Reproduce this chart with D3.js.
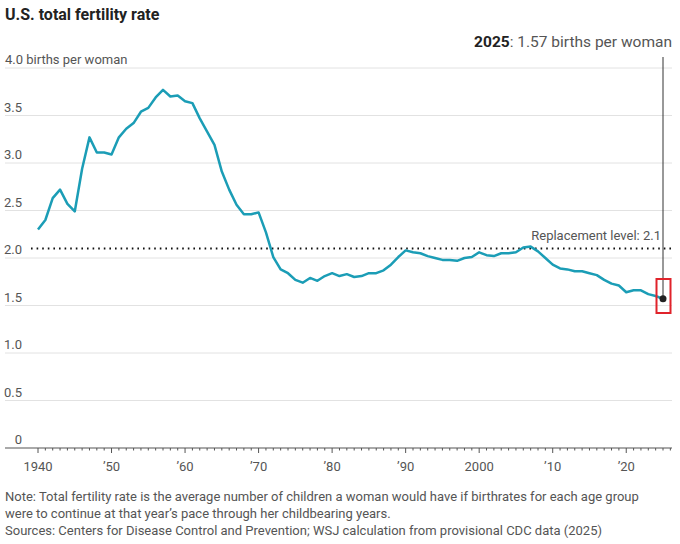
<!DOCTYPE html>
<html lang="en">
<head>
    <meta charset="UTF-8">
    <title>U.S. total fertility rate</title>
    <script src="https://cdnjs.cloudflare.com/ajax/libs/d3/7.8.5/d3.min.js"></script>
    <style>
        body {
            margin: 0;
            background: #fff;
            font-family: Roboto, "Open Sans", sans-serif;
        }
        svg text { fill: #555; }
        .title { font-weight: bold; fill: #222; }
    </style>
</head>
<body>
    <div id="chart"></div>

    <script>
        // Total fertility rate, births per woman
        const years = d3.range(1940, 2026);
        const rates = [
            2.30, 2.40, 2.63, 2.72, 2.57, 2.49, 2.94, 3.27, 3.11, 3.11,   // 1940s
            3.09, 3.27, 3.36, 3.42, 3.54, 3.58, 3.69, 3.77, 3.70, 3.71,   // 1950s
            3.65, 3.63, 3.47, 3.33, 3.19, 2.91, 2.72, 2.56, 2.46, 2.46,   // 1960s
            2.48, 2.27, 2.01, 1.88, 1.84, 1.77, 1.74, 1.79, 1.76, 1.81,   // 1970s
            1.84, 1.81, 1.83, 1.80, 1.81, 1.84, 1.84, 1.87, 1.93, 2.01,   // 1980s
            2.08, 2.06, 2.05, 2.02, 2.00, 1.98, 1.98, 1.97, 2.00, 2.01,   // 1990s
            2.06, 2.03, 2.02, 2.05, 2.05, 2.06, 2.11, 2.12, 2.07, 2.00,   // 2000s
            1.93, 1.89, 1.88, 1.86, 1.86, 1.84, 1.82, 1.77, 1.73, 1.71,   // 2010s
            1.64, 1.66, 1.66, 1.62, 1.60, 1.57                            // 2020s
        ];
        const replacement = 2.1;
        const yTicks = [0, 0.5, 1.0, 1.5, 2.0, 2.5, 3.0, 3.5, 4.0];
        const xTicks = [1940, 1950, 1960, 1970, 1980, 1990, 2000, 2010, 2020];
        const xTickLabels = ["1940", "\u201950", "\u201960", "\u201970", "\u201980", "\u201990", "2000", "\u201910", "\u201920"];

        const width = 680, height = 544;
        const left = 5, right = 672;

        const svg = d3.select("#chart").append("svg")
            .attr("width", width)
            .attr("height", height);

        const x = d3.scaleLinear().domain([1940, 2025]).range([38, 663]);
        const y = d3.scaleLinear().domain([0, 4]).range([448, 68]);

        // title
        svg.append("text")
            .attr("class", "title")
            .attr("x", 5).attr("y", 20)
            .style("font-size", "16px")
            .text("U.S. total fertility rate");

        // gridlines
        svg.append("g").selectAll("line")
            .data(yTicks.filter(d => d > 0))
            .enter().append("line")
            .attr("x1", left).attr("x2", right)
            .attr("y1", d => y(d)).attr("y2", d => y(d))
            .attr("stroke", "#e2e2e2")
            .attr("stroke-width", 1);

        // y labels
        svg.append("g").selectAll("text")
            .data(yTicks)
            .enter().append("text")
            .attr("x", d => d === 4 ? 5 : 22)
            .attr("y", d => y(d) - 4)
            .attr("text-anchor", d => d === 4 ? "start" : "end")
            .style("font-size", "13px")
            .text(d => d === 4 ? "4.0 births per woman" : d === 0 ? "0" : d.toFixed(1));

        // x axis line + ticks
        svg.append("line")
            .attr("x1", left).attr("x2", right)
            .attr("y1", y(0)).attr("y2", y(0))
            .attr("stroke", "#555").attr("stroke-width", 1.2);

        svg.append("g").selectAll("line")
            .data(d3.range(1940, 2027))
            .enter().append("line")
            .attr("x1", d => x(d)).attr("x2", d => x(d))
            .attr("y1", y(0))
            .attr("y2", d => y(0) + (d % 10 === 0 ? 5 : 2.5))
            .attr("stroke", "#555").attr("stroke-width", 1);

        svg.append("g").selectAll("text")
            .data(xTicks)
            .enter().append("text")
            .attr("x", d => x(d))
            .attr("y", 471)
            .attr("text-anchor", "middle")
            .style("font-size", "13px")
            .text((d, i) => xTickLabels[i]);

        // replacement level
        svg.append("line")
            .attr("x1", 31).attr("x2", right)
            .attr("y1", y(replacement)).attr("y2", y(replacement))
            .attr("stroke", "#111")
            .attr("stroke-width", 2)
            .attr("stroke-dasharray", "1.6,4");

        svg.append("text")
            .attr("x", 661).attr("y", y(replacement) - 9)
            .attr("text-anchor", "end")
            .style("font-size", "13px")
            .text("Replacement level: 2.1");

        // series
        const data = years.map((yr, i) => ({ year: yr, value: rates[i] }));
        svg.append("path")
            .datum(data)
            .attr("fill", "none")
            .attr("stroke", "#1b9db6")
            .attr("stroke-width", 2.5)
            .attr("stroke-linejoin", "round")
            .attr("d", d3.line().x(d => x(d.year)).y(d => y(d.value)));

        // 2025 callout
        const last = data[data.length - 1];
        svg.append("line")
            .attr("x1", x(last.year)).attr("x2", x(last.year))
            .attr("y1", 57).attr("y2", y(last.value))
            .attr("stroke", "#333").attr("stroke-width", 1);

        svg.append("circle")
            .attr("cx", x(last.year)).attr("cy", y(last.value))
            .attr("r", 3.5)
            .attr("fill", "#222");

        svg.append("rect")
            .attr("x", x(last.year) - 6.5).attr("y", 279)
            .attr("width", 14).attr("height", 34)
            .attr("fill", "none")
            .attr("stroke", "#e0232b")
            .attr("stroke-width", 2);

        const callout = svg.append("text")
            .attr("x", 672).attr("y", 47)
            .attr("text-anchor", "end")
            .style("font-size", "15.5px");
        callout.append("tspan").style("font-weight", "bold").style("fill", "#222").text("2025");
        callout.append("tspan").text(": 1.57 births per woman");

        // notes
        const notes = [
            "Note: Total fertility rate is the average number of children a woman would have if birthrates for each age group",
            "were to continue at that year\u2019s pace through her childbearing years.",
            "Sources: Centers for Disease Control and Prevention; WSJ calculation from provisional CDC data (2025)"
        ];
        svg.append("g").selectAll("text")
            .data(notes)
            .enter().append("text")
            .attr("x", 5)
            .attr("y", (d, i) => 501 + i * 17)
            .style("font-size", "13px")
            .text(d => d);
    </script>
</body>
</html>
